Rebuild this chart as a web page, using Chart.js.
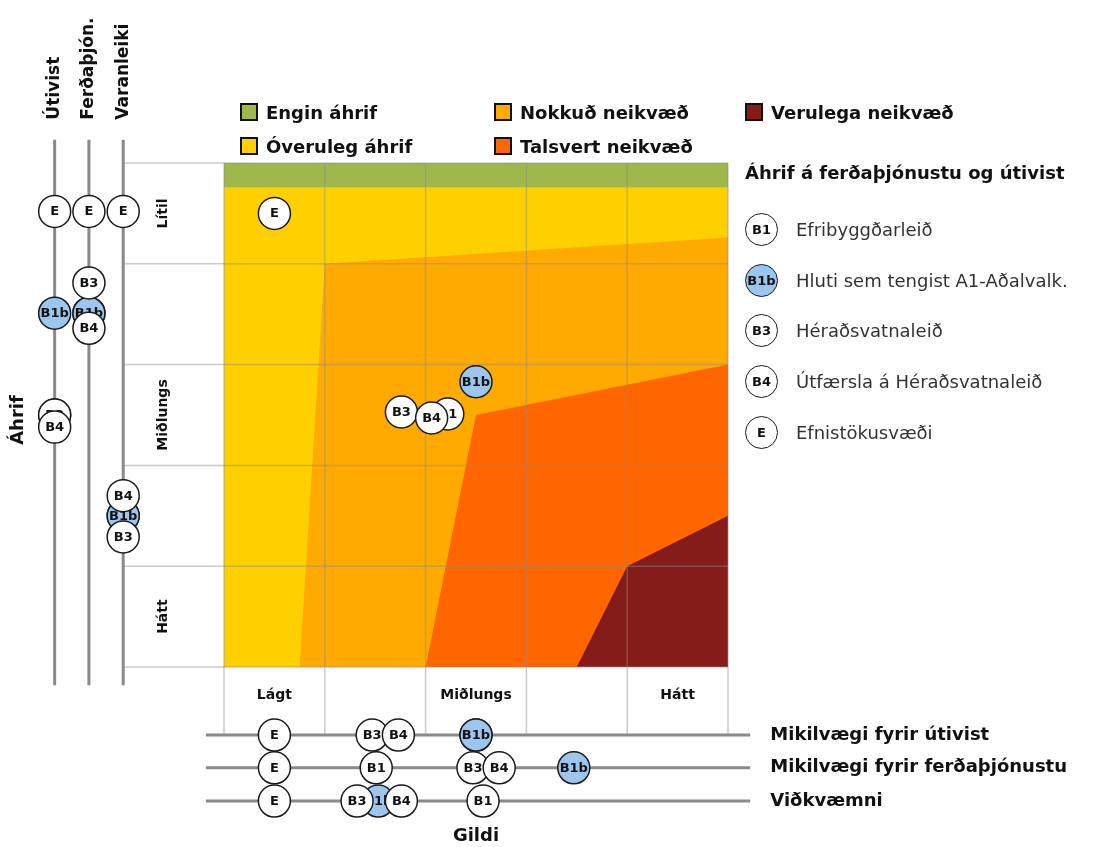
<!DOCTYPE html>
<html lang="is">
<head>
<meta charset="utf-8">
<title>Áhrif á ferðaþjónustu og útivist</title>
<script src="https://cdn.jsdelivr.net/npm/chart.js@4.4.1/dist/chart.umd.min.js"></script>
<style>
  body { margin: 0; background: #fff; font-family: "DejaVu Sans", sans-serif; }
  #wrap { position: relative; width: 1097px; height: 847px; overflow: hidden; }
  #chart { position: absolute; left: 0; top: 0; }

  /* litaskýringar fyrir áhrifasvæðin */
  #zoneLegend {
    position: absolute; left: 240px; top: 95px;
    display: grid; grid-auto-flow: column;
    grid-template-rows: 34px 34px; grid-template-columns: 254px 251px 260px;
  }
  #zoneLegend div { display: flex; align-items: center; font-weight: 700; font-size: 18px; color: #111; white-space: nowrap; }
  #zoneLegend i { display: inline-block; width: 14px; height: 14px; border: 2px solid #111; margin-right: 8px; }

  /* skýringar fyrir leiðirnar */
  #projectLegend { position: absolute; left: 745px; top: 157px; }
  #projectLegend h3 { margin: 0 0 15px 0; height: 32px; line-height: 32px; font-size: 18px; font-weight: 700; color: #111; white-space: nowrap; }
  #projectLegend div { display: flex; align-items: center; height: 50.7px; font-size: 18px; color: #333; white-space: nowrap; }
  #projectLegend span {
    box-sizing: border-box; width: 33px; height: 33px; border-radius: 50%;
    border: 1.5px solid #1a1a1a; margin-right: 18px;
    display: flex; align-items: center; justify-content: center;
    font-size: 13px; font-weight: 700; color: #111;
  }
</style>
</head>
<body>
<div id="wrap">
  <canvas id="chart" width="1097" height="847"></canvas>
  <div id="zoneLegend"></div>
  <div id="projectLegend"></div>
</div>
<script>
// Leiðir og heiti þeirra
const projects = ['B1', 'B1b', 'B3', 'B4', 'E'];
const projectNames = ['Efribyggðarleið', 'Hluti sem tengist A1-Aðalvalk.', 'Héraðsvatnaleið', 'Útfærsla á Héraðsvatnaleið', 'Efnistökusvæði'];

// Gildi (0-5) á láréttu línunum, í sömu röð og projects
const utivistGildi = [2.5, 2.5, 1.47, 1.73, 0.5];
const ferdathjonGildi = [1.51, 3.47, 2.47, 2.73, 0.5];
const vidkvaemni = [2.57, 1.53, 1.32, 1.76, 0.5];

// Áhrif (0-5, 5 = lítil) á lóðréttu línunum
const utivistAhrif = [2.5, 3.51, 2.5, 2.38, 4.52];
const ferdathjonAhrif = [3.51, 3.51, 3.81, 3.36, 4.52];
const varanleiki = [1.5, 1.5, 1.29, 1.7, 4.52];

// Heildarstaða í matrixunni
const heildGildi = [2.22, 2.5, 1.76, 2.06, 0.5];
const heildAhrif = [2.51, 2.83, 2.53, 2.47, 4.5];

// Áhrifasvæðin: efri brún hvers svæðis [gildi, áhrif], fyllt niður að 0
const zoneNames = ['Engin áhrif', 'Óveruleg áhrif', 'Nokkuð neikvæð', 'Talsvert neikvæð', 'Verulega neikvæð'];
const enginEdge = [[0, 5], [5, 5]];
const overulegEdge = [[0, 4.76], [5, 4.76]];
const nokkudEdge = [[0.75, 0], [1, 4], [5, 4.26]];
const talsvertEdge = [[2, 0], [2.5, 2.5], [5, 3]];
const verulegaEdge = [[3.5, 0], [4, 1], [5, 1.5]];

// Textar á ásum
const ahrifTicks = ['Hátt', 'Miðlungs', 'Lítil'];
const gildiTicks = ['Lágt', 'Miðlungs', 'Hátt'];
const ahrifLineNames = ['Útivist', 'Ferðaþjón.', 'Varanleiki'];
const gildiLineNames = ['Mikilvægi fyrir útivist', 'Mikilvægi fyrir ferðaþjónustu', 'Viðkvæmni'];

// ---- útlit ----
const FONT = '"DejaVu Sans", sans-serif';
const zoneColors = ['#a0b74b', '#ffd000', '#ffaa00', '#ff6600', '#861c19'];
const B1B_BLUE = '#9dc6ee';
// staðsetning hjálparlínanna í einingum matrixunnar
const ahrifLineX = [-1.68, -1.34, -1.0];
const gildiLineY = [-0.675, -1.0, -1.33];

const zoneEdges = [enginEdge, overulegEdge, nokkudEdge, talsvertEdge, verulegaEdge];
const datasets = [];

zoneEdges.forEach((edge, i) => {
    datasets.push({
        type: 'line',
        label: zoneNames[i],
        data: edge.map(p => ({ x: p[0], y: p[1] })),
        fill: { value: 0 },
        backgroundColor: zoneColors[i],
        borderWidth: 0,
        borderColor: 'transparent',
        pointRadius: 0,
        order: 100 - i,
        drawGridAfter: i === zoneEdges.length - 1
    });
});

// lóðréttu línurnar (áhrif) og láréttu línurnar (gildi)
ahrifLineX.forEach(lx => {
    datasets.push({
        type: 'line', data: [{ x: lx, y: -0.18 }, { x: lx, y: 5.23 }],
        borderColor: '#8a8a8a', borderWidth: 3, pointRadius: 0, order: 50
    });
});
gildiLineY.forEach(ly => {
    datasets.push({
        type: 'line', data: [{ x: -0.18, y: ly }, { x: 5.22, y: ly }],
        borderColor: '#8a8a8a', borderWidth: 3, pointRadius: 0, order: 50
    });
});

// einn hringur fyrir hverja leið á hverri línu og í matrixunni
projects.forEach((p, i) => {
    datasets.push({
        type: 'scatter',
        label: p,
        data: [
            { x: heildGildi[i], y: heildAhrif[i] },
            { x: utivistGildi[i], y: gildiLineY[0] },
            { x: ferdathjonGildi[i], y: gildiLineY[1] },
            { x: vidkvaemni[i], y: gildiLineY[2] },
            { x: ahrifLineX[0], y: utivistAhrif[i] },
            { x: ahrifLineX[1], y: ferdathjonAhrif[i] },
            { x: ahrifLineX[2], y: varanleiki[i] }
        ],
        pointRadius: 16,
        pointHoverRadius: 16,
        pointBackgroundColor: p === 'B1b' ? B1B_BLUE : '#fff',
        pointBorderColor: '#1a1a1a',
        pointBorderWidth: 1.5,
        order: 10 - i,
        markerLabel: true
    });
});

function drawText(ctx, text, px, py, font, align, rotate) {
    ctx.save();
    ctx.translate(px, py);
    if (rotate) ctx.rotate(-Math.PI / 2);
    ctx.font = font;
    ctx.fillStyle = '#111';
    ctx.textAlign = align;
    ctx.textBaseline = 'middle';
    ctx.fillText(text, 0, 0);
    ctx.restore();
}

const matrixPlugin = {
    id: 'matrix',
    afterDatasetDraw(chart, args) {
        const ds = chart.data.datasets[args.index];
        const ctx = chart.ctx;
        const sx = chart.scales.x, sy = chart.scales.y;

        if (ds.drawGridAfter) {
            // netið ofan á litina en undir hringjunum
            ctx.save();
            ctx.strokeStyle = 'rgba(140,140,140,0.45)';
            ctx.lineWidth = 1.5;
            for (let i = 0; i <= 5; i++) {
                const px = sx.getPixelForValue(i);
                ctx.beginPath();
                ctx.moveTo(px, sy.getPixelForValue(5));
                ctx.lineTo(px, sy.getPixelForValue(gildiLineY[0]));
                ctx.stroke();
                const py = sy.getPixelForValue(i);
                ctx.beginPath();
                ctx.moveTo(sx.getPixelForValue(ahrifLineX[2]), py);
                ctx.lineTo(sx.getPixelForValue(5), py);
                ctx.stroke();
            }
            ctx.restore();
        }

        if (ds.markerLabel) {
            ctx.save();
            ctx.font = '700 13px ' + FONT;
            ctx.fillStyle = '#111';
            ctx.textAlign = 'center';
            ctx.textBaseline = 'middle';
            args.meta.data.forEach(pt => ctx.fillText(ds.label, pt.x, pt.y + 0.5));
            ctx.restore();
        }
    },
    afterDraw(chart) {
        const ctx = chart.ctx;
        const sx = chart.scales.x, sy = chart.scales.y;
        const tickFont = '700 14px ' + FONT;
        const titleFont = '700 17px ' + FONT;
        const lineTitleFont = '700 18px ' + FONT;

        ahrifTicks.forEach((t, i) => drawText(ctx, t, sx.getPixelForValue(-0.6), sy.getPixelForValue(0.5 + i * 2), tickFont, 'center', true));
        gildiTicks.forEach((t, i) => drawText(ctx, t, sx.getPixelForValue(0.5 + i * 2), sy.getPixelForValue(-0.28), tickFont, 'center', false));

        ahrifLineNames.forEach((t, i) => drawText(ctx, t, sx.getPixelForValue(ahrifLineX[i]), sy.getPixelForValue(5.43), titleFont, 'left', true));
        gildiLineNames.forEach((t, i) => drawText(ctx, t, sx.getPixelForValue(5.42), sy.getPixelForValue(gildiLineY[i]), lineTitleFont, 'left', false));

        drawText(ctx, 'Áhrif', 18, sy.getPixelForValue(2.45), lineTitleFont, 'center', true);
        drawText(ctx, 'Gildi', sx.getPixelForValue(2.5), sy.getPixelForValue(-1.68), lineTitleFont, 'center', false);
    }
};

new Chart(document.getElementById('chart'), {
    type: 'scatter',
    data: { datasets: datasets },
    options: {
        responsive: false,
        animation: false,
        events: [],
        layout: { autoPadding: false, padding: { left: 2.24, right: 338.76, top: 132.76, bottom: 18.72 } },
        scales: {
            x: { type: 'linear', min: -2.2, max: 5.3, display: false },
            y: { type: 'linear', min: -1.6, max: 5.3, display: false }
        },
        plugins: {
            legend: { display: false },
            tooltip: { enabled: false }
        }
    },
    plugins: [matrixPlugin]
});

// litaskýringar: tvær raðir, dálkar fylltir ofan frá
const zoneLegend = document.getElementById('zoneLegend');
zoneNames.forEach((name, i) => {
    const row = document.createElement('div');
    row.innerHTML = '<i style="background:' + zoneColors[i] + '"></i>' + name;
    zoneLegend.appendChild(row);
});

const projectLegend = document.getElementById('projectLegend');
projectLegend.innerHTML = '<h3>Áhrif á ferðaþjónustu og útivist</h3>';
projects.forEach((p, i) => {
    const row = document.createElement('div');
    const bg = p === 'B1b' ? B1B_BLUE : '#fff';
    row.innerHTML = '<span style="background:' + bg + '">' + p + '</span>' + projectNames[i];
    projectLegend.appendChild(row);
});
</script>
</body>
</html>
